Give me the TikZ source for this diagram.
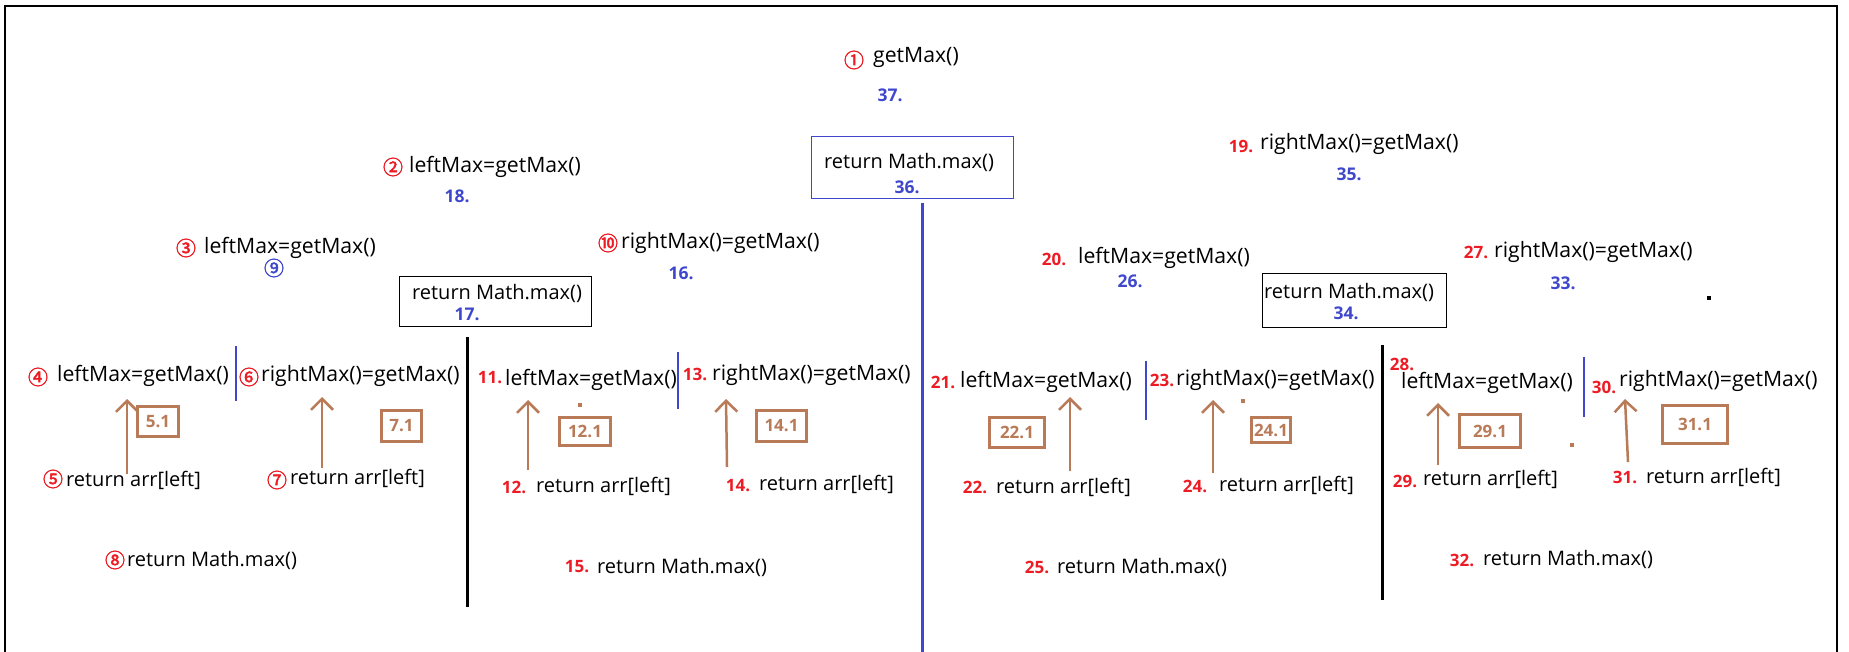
\documentclass[tikz,border=0pt]{standalone}
\usepackage{fontspec}
\setmainfont{Open Sans}
\newfontfamily\circfont[FakeBold=2]{Noto Sans CJK SC}
\usetikzlibrary{arrows.meta}
\definecolor{pred}{RGB}{237,28,36}
\definecolor{pblue}{RGB}{63,72,204}
\definecolor{pbrown}{RGB}{185,122,87}
\begin{document}
\begin{tikzpicture}[x=1pt,y=-1pt,
  txt/.style={anchor=west,inner sep=0pt,font=\fontsize{21.2}{22}\selectfont},
  rtxt/.style={anchor=west,inner sep=0pt,font=\fontsize{20}{22}\selectfont},
  rnum/.style={inner sep=0pt,text=pred,font=\fontsize{17}{18}\selectfont\bfseries},
  bnum/.style={inner sep=0pt,text=pblue,font=\fontsize{17.5}{18}\selectfont\bfseries},
  circ/.style={inner sep=0pt,text=pred,font=\circfont\fontsize{20}{20}\selectfont},
  bcirc/.style={circ,text=pblue},
  vblue/.style={draw=pblue,line width=2.5pt},
  vblack/.style={draw=black,line width=3pt},
  arr/.style={draw=pbrown,line width=2.5pt,-{Straight Barb[length=11pt,width=22pt]}},
  bbox/.style={draw=pbrown,line width=3pt,inner sep=0pt,text=pbrown,font=\fontsize{17}{18}\selectfont\bfseries},
  kbox/.style={draw=black,line width=1.3pt,inner sep=0pt},
  dot/.style={fill=#1,inner sep=0pt,minimum size=3.5pt}
]
\useasboundingbox (0,0) rectangle (1849,652);
\fill[white] (0,0) rectangle (1849,652);
% frame
\coordinate (fbl) at (5,652); \coordinate (ftl) at (5,6);
\coordinate (ftr) at (1837,6); \coordinate (fbr) at (1837,652);
\draw[line width=1.3pt] (fbl) -- (ftl) -- (ftr) -- (fbr);

% ---- top
\node[circ] (c1) at (854,60) {①};
\node[txt] (t1) at (873,57) {getMax()};
\node[bnum] (b37) at (890,95) {37.};
\node[kbox,draw=pblue,minimum width=202pt,minimum height=62pt] (m36) at (912.5,167.5) {};
\node[rtxt] (t36) at (824,162) {return Math.max()};
\node[bnum] (b36) at (907,187) {36.};
\coordinate (d0t) at (922,203); \coordinate (d0b) at (922,652);
\draw[vblue,line width=3pt] (d0t) -- (d0b);

% ---- level 2
\node[circ] (c2) at (393,167) {②};
\node[txt] (t2) at (409,167) {leftMax=getMax()};
\node[bnum] (b18) at (457,196) {18.};
\node[rnum] (r19) at (1241,146) {19.};
\node[txt] (t19) at (1260,144) {rightMax()=getMax()};
\node[bnum] (b35) at (1349,174) {35.};

% ---- level 3
\node[circ] (c3) at (186,248) {③};
\node[txt] (t3) at (204,248) {leftMax=getMax()};
\node[bcirc] (c9) at (274,268) {⑨};
\node[circ] (c10) at (608,243) {⑩};
\node[txt] (t10) at (621,243) {rightMax()=getMax()};
\node[bnum] (b16) at (681,273) {16.};
\node[kbox,minimum width=192pt,minimum height=50pt] (m17) at (495.5,301.5) {};
\node[rtxt] (t17) at (412,293) {return Math.max()};
\node[bnum] (b17) at (467,314) {17.};
\node[rnum] (r20) at (1054,259) {20.};
\node[txt] (t20) at (1078,258) {leftMax=getMax()};
\node[bnum] (b26) at (1130,281) {26.};
\node[kbox,minimum width=184pt,minimum height=54pt] (m34) at (1354.5,300.5) {};
\node[rtxt] (t34) at (1264,292) {return Math.max()};
\node[bnum] (b34) at (1346,313) {34.};
\node[rnum] (r27) at (1476,252) {27.};
\node[txt] (t27) at (1494,252) {rightMax()=getMax()};
\node[bnum] (b33) at (1563,283) {33.};
\node[dot=black] (k1) at (1709,298) {};

% ---- level 4
\node[circ] (c4) at (38,377) {④};
\node[txt] (t4) at (57,376) {leftMax=getMax()};
\coordinate (s1t) at (236,346); \coordinate (s1b) at (236,401);
\draw[vblue] (s1t) -- (s1b);
\node[circ] (c6) at (249,377) {⑥};
\node[txt] (t6) at (261,376) {rightMax()=getMax()};
\coordinate (d1t) at (467,337); \coordinate (d1b) at (467,607);
\draw[vblack] (d1t) -- (d1b);
\node[rnum] (r11) at (490,378) {11.};
\node[txt] (t11) at (505,380) {leftMax=getMax()};
\coordinate (s2t) at (678,352); \coordinate (s2b) at (678,409);
\draw[vblue] (s2t) -- (s2b);
\node[rnum] (r13) at (695,374) {13.};
\node[txt] (t13) at (712,375) {rightMax()=getMax()};
\node[rnum] (r21) at (943,382) {21.};
\node[txt] (t21) at (960,382) {leftMax=getMax()};
\coordinate (s3t) at (1146,361); \coordinate (s3b) at (1146,420);
\draw[vblue] (s3t) -- (s3b);
\node[rnum] (r23) at (1162,380) {23.};
\node[txt] (t23) at (1176,380) {rightMax()=getMax()};
\coordinate (d2t) at (1382,345); \coordinate (d2b) at (1382,600);
\draw[vblack] (d2t) -- (d2b);
\node[rnum] (r28) at (1402,364) {28.};
\node[txt] (t28) at (1401,383) {leftMax=getMax()};
\coordinate (s4t) at (1584,357); \coordinate (s4b) at (1584,417);
\draw[vblue] (s4t) -- (s4b);
\node[rnum] (r30) at (1604,387) {30.};
\node[txt] (t30) at (1619,381) {rightMax()=getMax()};

% ---- arrows
\coordinate (a1b) at (127,474); \coordinate (a1t) at (127,399);
\coordinate (a2b) at (322,468); \coordinate (a2t) at (322,397);
\coordinate (a3b) at (528,470); \coordinate (a3t) at (528,400);
\coordinate (a4b) at (727,467); \coordinate (a4t) at (726,399);
\coordinate (a5b) at (1070,471); \coordinate (a5t) at (1070,397);
\coordinate (a6b) at (1213,473); \coordinate (a6t) at (1213,400);
\coordinate (a7b) at (1438,465); \coordinate (a7t) at (1438,403);
\coordinate (a8b) at (1628,462); \coordinate (a8t) at (1625,399);
\foreach \i in {1,...,8} {\draw[arr] (a\i b) -- (a\i t);}

% ---- brown boxes
\node[bbox,minimum width=41pt,minimum height=30pt] (x51) at (158,421.5) {5.1};
\node[bbox,minimum width=40pt,minimum height=31pt] (x71) at (401.5,426) {7.1};
\node[bbox,minimum width=51pt,minimum height=28pt] (x121) at (585,431.5) {12.1};
\node[bbox,minimum width=50pt,minimum height=31pt] (x141) at (781.5,426) {14.1};
\node[bbox,minimum width=55pt,minimum height=30pt] (x221) at (1017,432.5) {22.1};
\node[bbox,minimum width=39pt,minimum height=25pt] (x241) at (1271,430) {24.1};
\node[bbox,minimum width=61pt,minimum height=33pt] (x291) at (1490,431) {29.1};
\node[bbox,minimum width=65pt,minimum height=38pt] (x311) at (1695,424.5) {31.1};
\node[dot=pbrown] (k2) at (580,405) {};
\node[dot=pbrown] (k3) at (1243,401) {};
\node[dot=pbrown] (k4) at (1572,445) {};

% ---- level 5
\node[circ] (c5) at (53,479) {⑤};
\node[rtxt] (t5) at (66,480) {return arr[left]};
\node[circ] (c7) at (277,480) {⑦};
\node[rtxt] (t7) at (290,478) {return arr[left]};
\node[rnum] (r12) at (514,487) {12.};
\node[rtxt] (t12) at (536,486) {return arr[left]};
\node[rnum] (r14) at (738,486) {14.};
\node[rtxt] (t14) at (759,484) {return arr[left]};
\node[rnum] (r22) at (975,487) {22.};
\node[rtxt] (t22) at (996,487) {return arr[left]};
\node[rnum] (r24) at (1195,486) {24.};
\node[rtxt] (t24) at (1219,485) {return arr[left]};
\node[rnum] (r29) at (1405,481) {29.};
\node[rtxt] (t29) at (1423,479) {return arr[left]};
\node[rnum] (r31) at (1625,477) {31.};
\node[rtxt] (t31) at (1646,477) {return arr[left]};

% ---- level 6
\node[circ] (c8) at (115,560) {⑧};
\node[rtxt] (t8) at (127,560) {return Math.max()};
\node[rnum] (r15) at (577,567) {15.};
\node[rtxt] (t15) at (597,567) {return Math.max()};
\node[rnum] (r25) at (1037,567) {25.};
\node[rtxt] (t25) at (1057,567) {return Math.max()};
\node[rnum] (r32) at (1462,560) {32.};
\node[rtxt] (t32) at (1483,559) {return Math.max()};
\end{tikzpicture}
\end{document}
